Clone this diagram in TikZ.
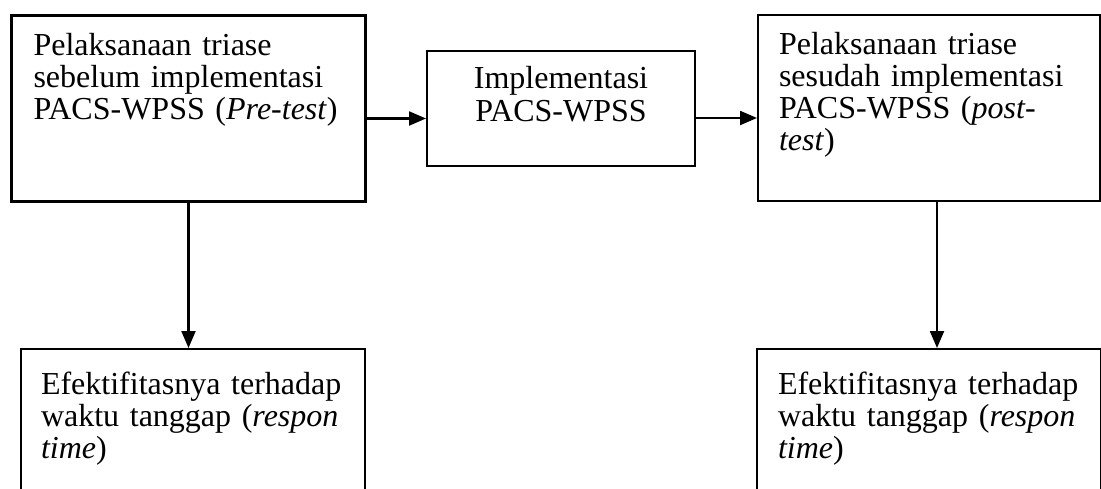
\documentclass[tikz,border=0pt]{standalone}
\usepackage{fontspec}
\setmainfont{Liberation Serif}
\usetikzlibrary{arrows.meta,positioning}
\tikzset{
  box/.style={draw=black,line width=1pt,anchor=north west,align=left,inner ysep=0pt,font=\fontsize{16pt}{16pt}\selectfont},
  stagebox/.style={box,inner xsep=10.5pt,text width=150pt,text height=20pt,text depth=73pt},
  midbox/.style={box,align=center,inner xsep=0pt,text width=134pt,text height=19pt,text depth=38.5pt},
  resultbox/.style={box,inner xsep=10.5pt,text width=151pt,text height=22.5pt,text depth=57.5pt},
  flow/.style={-{Triangle[length=8.5pt,width=7pt]},line width=1.1pt,draw=black}
}
\begin{document}
\begin{tikzpicture}[x=0.5pt,y=0.5pt]
  \useasboundingbox (0,0) rectangle (1101,488);
  \node[stagebox,line width=1.5pt,inner xsep=11pt,text width=155pt] (pre) at (10,474) {Pelaksanaan triase\\sebelum implementasi\\PACS-WPSS (\textit{Pre-test})};
  \node[midbox] (impl) at (426,438) {Implementasi\\PACS-WPSS};
  \node[stagebox] (post) at (757,474) {Pelaksanaan triase\\sesudah implementasi\\PACS-WPSS (\textit{post-}\\\textit{test})};
  \node[resultbox,inner xsep=10pt,text width=152pt] (effpre) at (20,140) {Efektifitasnya terhadap\\waktu tanggap (\textit{respon}\\\textit{time})};
  \node[resultbox] (effpost) at (756,140) {Efektifitasnya terhadap\\waktu tanggap (\textit{respon}\\\textit{time})};
  \draw[flow] ([yshift=-5pt]pre.east) -- ([yshift=-5pt]pre.east -| impl.west);
  \draw[flow] ([yshift=-4.75pt]impl.east) -- ([yshift=-4.75pt]impl.east -| post.west);
  \draw[flow] (pre.south) -- (pre.south |- effpre.north);
  \draw[flow] ([xshift=4pt]post.south) -- ([xshift=4pt]post.south |- effpost.north);
\end{tikzpicture}
\end{document}
